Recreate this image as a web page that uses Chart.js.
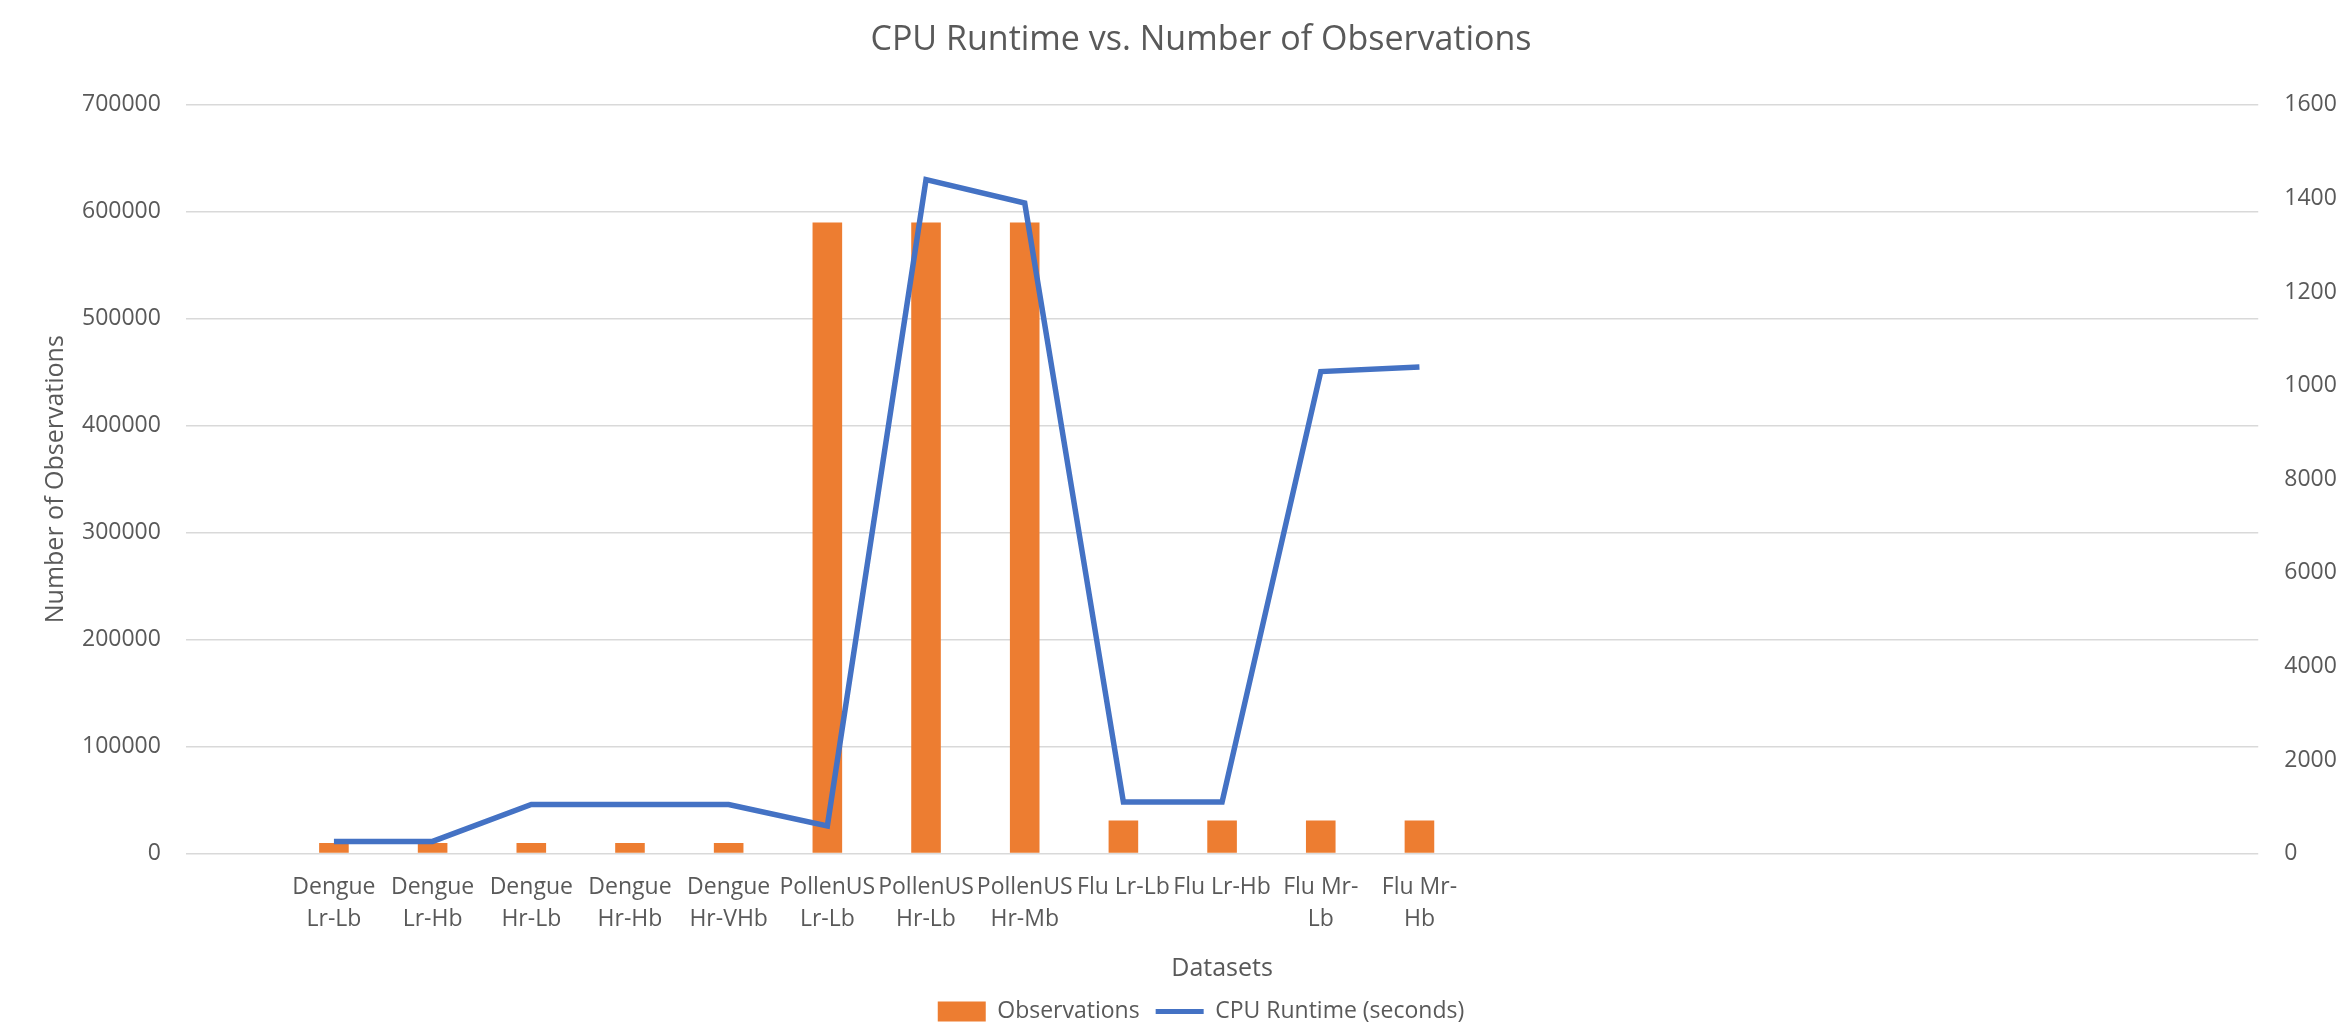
<!DOCTYPE html>
<html lang="en">
<head>
    <meta charset="UTF-8">
    <title>CPU Runtime vs. Number of Observations</title>
    <script src="https://cdn.jsdelivr.net/npm/chart.js"></script>
    <style>
        html, body {
            margin: 0;
            padding: 0;
            background: #ffffff;
            overflow: hidden;
        }
        /* a bit wider than the window: the right tick labels get cut like in the original */
        .chart-container {
            position: relative;
            width: 2376px;
            height: 1034px;
        }
    </style>
</head>
<body>
    <div class="chart-container">
        <canvas id="runtimeChart"></canvas>
    </div>

    <script>
        // datasets on the x axis
        const datasetNames = [
            ['Dengue', 'Lr-Lb'], ['Dengue', 'Lr-Hb'], ['Dengue', 'Hr-Lb'],
            ['Dengue', 'Hr-Hb'], ['Dengue', 'Hr-VHb'],
            ['PollenUS', 'Lr-Lb'], ['PollenUS', 'Hr-Lb'], ['PollenUS', 'Hr-Mb'],
            'Flu Lr-Lb', 'Flu Lr-Hb', ['Flu Mr-', 'Lb'], ['Flu Mr-', 'Hb']
        ];

        // number of observations (left axis)
        const observations = [10000, 10000, 10000, 10000, 10000,
                              590000, 590000, 590000,
                              31000, 31000, 31000, 31000];

        // CPU runtime in seconds (right axis)
        const cpuRuntime = [260, 260, 1050, 1050, 1050,
                            590, 14400, 13900,
                            1100, 1100, 10300, 10400];

        // the excel sheet had one empty row before and eight after
        const emptyBefore = 1;
        const emptyAfter = 8;

        const pad = (arr, fill) => [].concat(
            Array(emptyBefore).fill(fill), arr, Array(emptyAfter).fill(fill)
        );

        const textColor = '#595959';
        const fontFamily = "'Open Sans', sans-serif";
        const barColor = '#ED7D31';
        const lineColor = '#4472C4';

        const plainNumber = (value) => String(value);

        const data = {
            labels: pad(datasetNames, ''),
            datasets: [{
                type: 'bar',
                label: 'Observations',
                data: pad(observations, null),
                backgroundColor: barColor,
                yAxisID: 'y',
                order: 2,
                categoryPercentage: 1.0,
                barPercentage: 0.3
            }, {
                type: 'line',
                label: 'CPU Runtime (seconds)',
                data: pad(cpuRuntime, null),
                borderColor: lineColor,
                backgroundColor: lineColor,
                borderWidth: 5.5,
                pointRadius: 0,
                tension: 0,
                yAxisID: 'y1',
                order: 1
            }]
        };

        const config = {
            data: data,
            options: {
                responsive: true,
                maintainAspectRatio: false,
                animation: false,
                layout: {
                    padding: { left: 26, right: 0, top: 0, bottom: 1 }
                },
                scales: {
                    x: {
                        grid: { display: false, drawTicks: false },
                        border: { display: false },
                        ticks: {
                            color: textColor,
                            font: { family: fontFamily, size: 23, lineHeight: 1.4 },
                            padding: 18,
                            maxRotation: 0,
                            autoSkip: false
                        },
                        title: {
                            display: true,
                            text: 'Datasets',
                            color: textColor,
                            font: { family: fontFamily, size: 25 },
                            padding: { top: 0, bottom: 0 }
                        }
                    },
                    y: {
                        position: 'left',
                        min: 0,
                        max: 700000,
                        grid: { color: '#D9D9D9', lineWidth: 1.5, drawTicks: false },
                        border: { display: false },
                        ticks: {
                            stepSize: 100000,
                            color: textColor,
                            font: { family: fontFamily, size: 23 },
                            padding: 25,
                            callback: plainNumber
                        },
                        title: {
                            display: true,
                            text: 'Number of Observations',
                            color: textColor,
                            font: { family: fontFamily, size: 25 },
                            padding: { top: 15, bottom: -14 }
                        }
                    },
                    y1: {
                        position: 'right',
                        min: 0,
                        max: 16000,
                        grid: { display: false, drawTicks: false },
                        border: { display: false },
                        ticks: {
                            stepSize: 2000,
                            color: textColor,
                            font: { family: fontFamily, size: 23 },
                            padding: 26,
                            callback: plainNumber
                        }
                    }
                },
                plugins: {
                    title: {
                        display: true,
                        text: 'CPU Runtime vs. Number of Observations',
                        color: textColor,
                        font: { family: fontFamily, size: 34, weight: 'normal' },
                        padding: { top: 20, bottom: 44 }
                    },
                    legend: {
                        position: 'bottom',
                        labels: {
                            color: textColor,
                            font: { family: fontFamily, size: 23 },
                            usePointStyle: true,
                            pointStyleWidth: 48,
                            boxHeight: 20,
                            padding: 16,
                            sort: (a, b) => a.datasetIndex - b.datasetIndex,
                            generateLabels: function(chart) {
                                const items = Chart.defaults.plugins.legend.labels.generateLabels(chart);
                                items.forEach(function(item) {
                                    const ds = chart.data.datasets[item.datasetIndex];
                                    if (ds.type === 'line') {
                                        item.pointStyle = 'line';
                                        item.strokeStyle = lineColor;
                                        item.lineWidth = 5;
                                    } else {
                                        item.pointStyle = 'rect';
                                        item.fillStyle = barColor;
                                        item.lineWidth = 0;
                                    }
                                });
                                return items;
                            }
                        }
                    },
                    tooltip: { enabled: false }
                }
            }
        };

        const runtimeChart = new Chart(
            document.getElementById('runtimeChart'),
            config
        );
    </script>
</body>
</html>
